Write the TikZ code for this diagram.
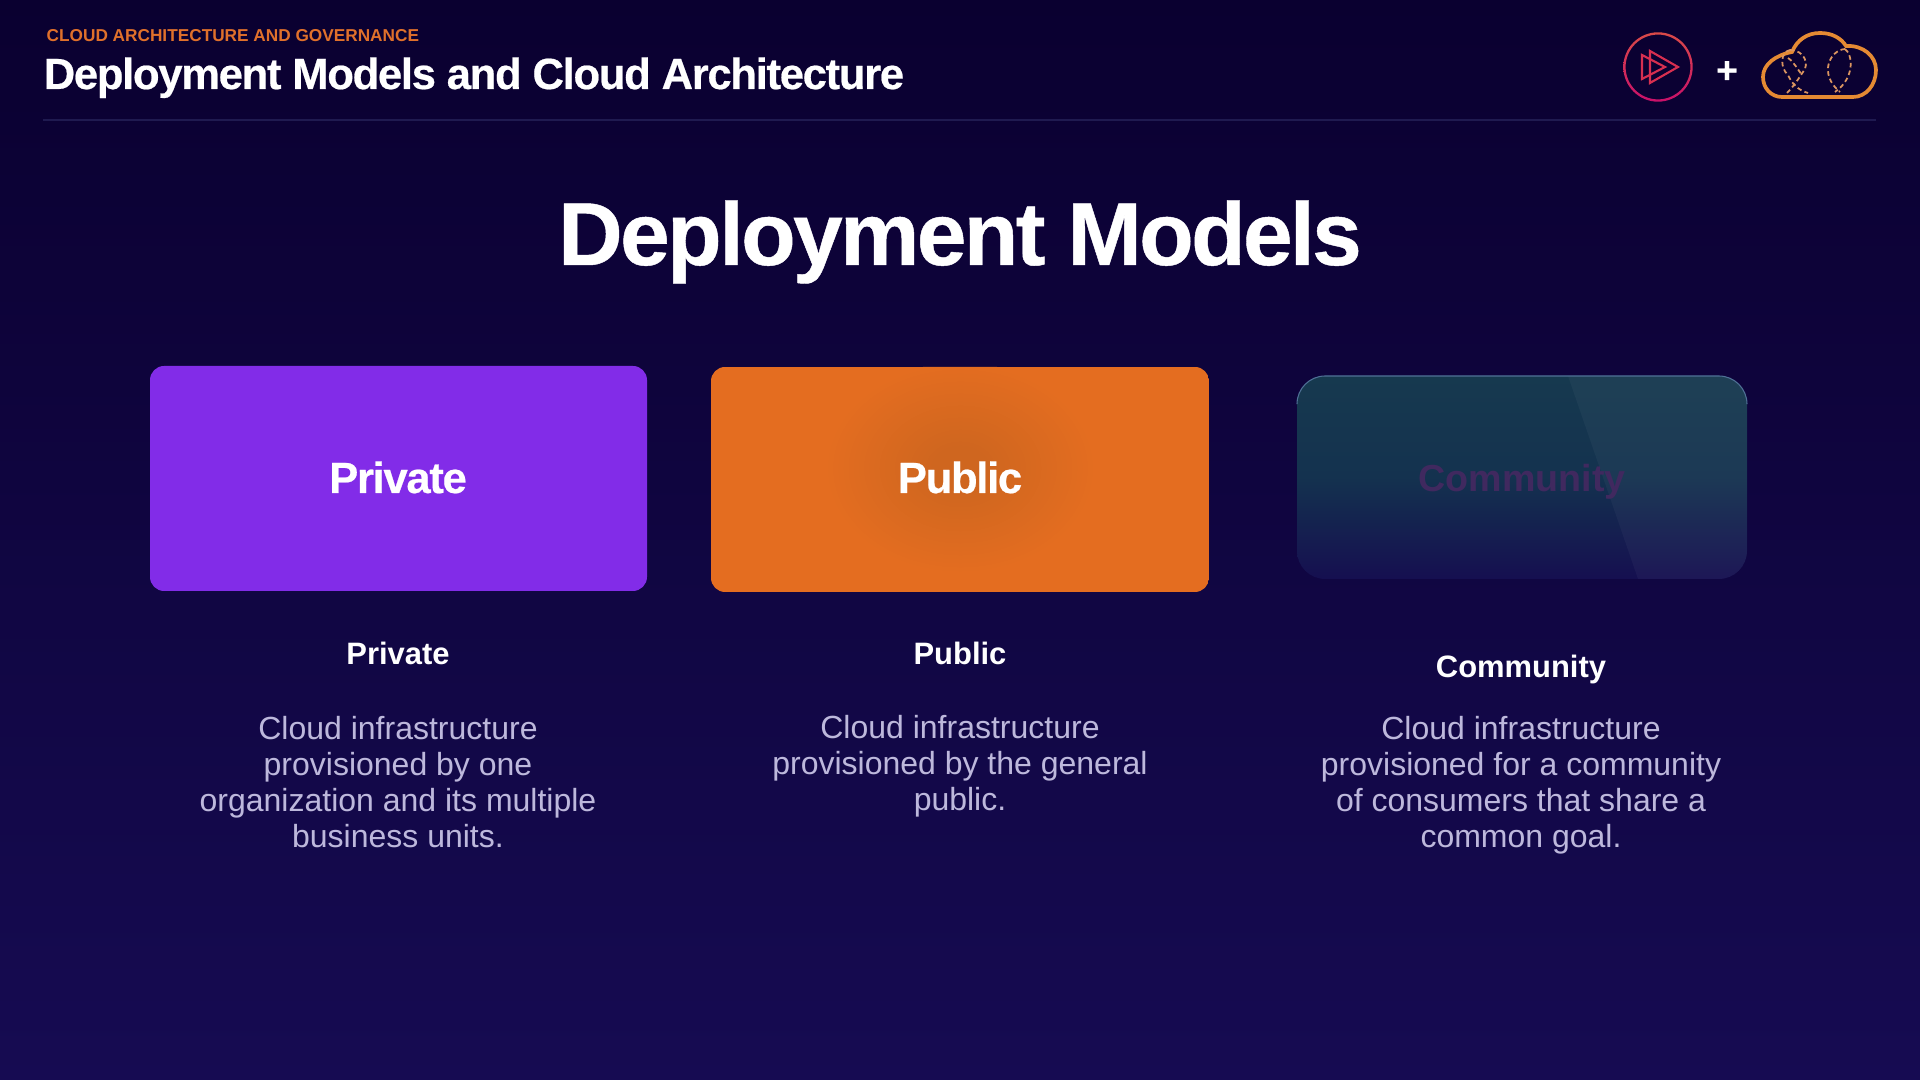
\documentclass[tikz,border=0pt]{standalone}
\usepackage{fontspec}
\setmainfont{Liberation Sans}
\newfontfamily\headfont[LetterSpace=-3,FakeBold=0.5]{Liberation Sans Bold}
\usetikzlibrary{positioning}
\definecolor{bgTop}{HTML}{0A0030}
\definecolor{bgBottom}{HTML}{160B52}
\definecolor{ruleGray}{HTML}{1F1A50}
\definecolor{eyebrowOrange}{HTML}{E0702B}
\definecolor{cardPurple}{HTML}{822CE8}
\definecolor{cardOrange}{HTML}{E46D20}
\definecolor{glowOrange}{HTML}{CF661F}
\definecolor{bodyLavender}{HTML}{BDB8DC}
\definecolor{playTop}{HTML}{D94A48}
\definecolor{playBottom}{HTML}{C9106A}
\definecolor{playLine}{HTML}{D82F50}
\definecolor{cloudOrange}{HTML}{E58A33}
\definecolor{treeOrange}{HTML}{DB9560}
\definecolor{glassTop}{HTML}{16394F}
\definecolor{glassMid}{HTML}{14324F}
\definecolor{glassBottom}{HTML}{150F50}
\definecolor{glassEdge}{HTML}{4F7196}
\definecolor{glassText}{HTML}{40295F}
\pgfdeclareradialshading{glow}{\pgfpoint{0bp}{0bp}}{color(0bp)=(glowOrange); color(5bp)=(glowOrange); color(25bp)=(cardOrange); color(50bp)=(cardOrange)}
\tikzset{
	cardlabel/.style={anchor=base, white, font=\headfont\fontsize{12.4}{14}\selectfont},
	modelhead/.style={anchor=base, white, font=\bfseries\fontsize{8.8}{10}\selectfont},
	modeltext/.style={anchor=north, bodyLavender, align=center, inner sep=0pt, font=\fontsize{9.1}{10.2}\selectfont},
	treeline/.style={treeOrange, line width=0.5pt, dash pattern=on 1.3pt off 0.9pt},
}

\begin{document}
\begin{tikzpicture}[x=0.01cm, y=-0.01cm]
	\useasboundingbox (0,0) rectangle (1920,1080);
	\shade[top color=bgTop, bottom color=bgBottom] (0,0) rectangle (1920,1080);

	% ==================== header ====================
	\node[anchor=base west, inner sep=0pt, eyebrowOrange, font=\bfseries\fontsize{4.9}{6}\selectfont] (eyebrow) at (46,42) {CLOUD ARCHITECTURE AND GOVERNANCE};
	\node[anchor=base west, inner sep=0pt, white, font=\headfont\fontsize{12.4}{15}\selectfont] (headline) at (43,89) {Deployment Models and Cloud Architecture};
	\draw[ruleGray, line width=0.6pt] (43,120) -- (1876,120);

	% play icon
	\shade[top color=playTop, bottom color=playBottom, even odd rule] (1658,67) circle (34.7) (1658,67) circle (32.4);
	\draw[playLine, line width=0.6pt, line join=miter] (1650,51) -- (1678,67) -- (1650,83) -- cycle;
	\draw[playLine, line width=0.6pt, line join=miter] (1642,55) -- (1665,67) -- (1642,79) -- cycle;

	\node[white, inner sep=0pt, font=\headfont\fontsize{10.5}{10}\selectfont] (plus) at (1727,72) {+};

	% cloud icon
	\draw[cloudOrange, line width=1.05pt] (1782,97) .. controls (1771,97) and (1763,88) .. (1763,77)
		.. controls (1763,64) and (1776,55) .. (1792,52)
		.. controls (1797,40) and (1807,33) .. (1820,33)
		.. controls (1832,33) and (1841,38) .. (1846,46)
		.. controls (1863,45) and (1876,56) .. (1876,70)
		.. controls (1876,85) and (1866,97) .. (1853,97) -- cycle;
	\draw[treeline] (1790,50) .. controls (1804,50) and (1810,64) .. (1803,72) .. controls (1799,78) and (1794,86) .. (1787,93);
	\draw[treeline] (1790,50) .. controls (1780,52) and (1780,68) .. (1788,75) .. controls (1792,84) and (1798,90) .. (1808,93);
	\draw[treeline] (1788,58) .. controls (1794,62) and (1798,70) .. (1802,75);
	\draw[treeline] (1845,49) .. controls (1853,55) and (1855,78) .. (1835,92);
	\draw[treeline] (1845,49) .. controls (1830,50) and (1818,74) .. (1840,92);

	\node[anchor=base, white, font=\headfont\fontsize{25.4}{30}\selectfont] (title) at (960,265) {Deployment Models};

	% ==================== Private ====================
	\fill[cardPurple, rounded corners=4pt] (150,366) rectangle (647,591);
	\node[cardlabel] (privateCard) at (398,493) {Private};
	\node[modelhead] (privateHead) at (398,665) {Private};
	\node[modeltext] (privateText) at (398,716) {Cloud infrastructure\\provisioned by one\\organization and its multiple\\business units.};

	% ==================== Public ====================
	\begin{scope}
		\clip[rounded corners=4pt] (711,367) rectangle (1209,592);
		\fill[cardOrange] (711,367) rectangle (1209,592);
		\shade[shading=glow] (960,468) ellipse (135 and 105);
	\end{scope}
	\node[cardlabel] (publicCard) at (960,493) {Public};
	\node[modelhead] (publicHead) at (960,665) {Public};
	\node[modeltext] (publicText) at (960,715) {Cloud infrastructure\\provisioned by the general\\public.};

	% ==================== Community ====================
	\begin{scope}
		\clip[rounded corners=8pt] (1297,376) rectangle (1747,579);
		\shade[top color=glassTop, bottom color=glassBottom, middle color=glassMid] (1297,376) rectangle (1747,579);
		\fill[white, opacity=0.035] (1568,376) -- (1638,579) -- (1747,579) -- (1747,376) -- cycle;
	\end{scope}
	\draw[glassEdge, line width=0.3pt, rounded corners=8pt] (1297,404) -- (1297,376) -- (1747,376) -- (1747,404);
	\node[cardlabel, glassText, font=\bfseries\fontsize{10.7}{13}\selectfont] (communityCard) at (1522,492) {Community};
	\node[modelhead] (communityHead) at (1521,678) {Community};
	\node[modeltext] (communityText) at (1521,716) {Cloud infrastructure\\provisioned for a community\\of consumers that share a\\common goal.};
\end{tikzpicture}
\end{document}
